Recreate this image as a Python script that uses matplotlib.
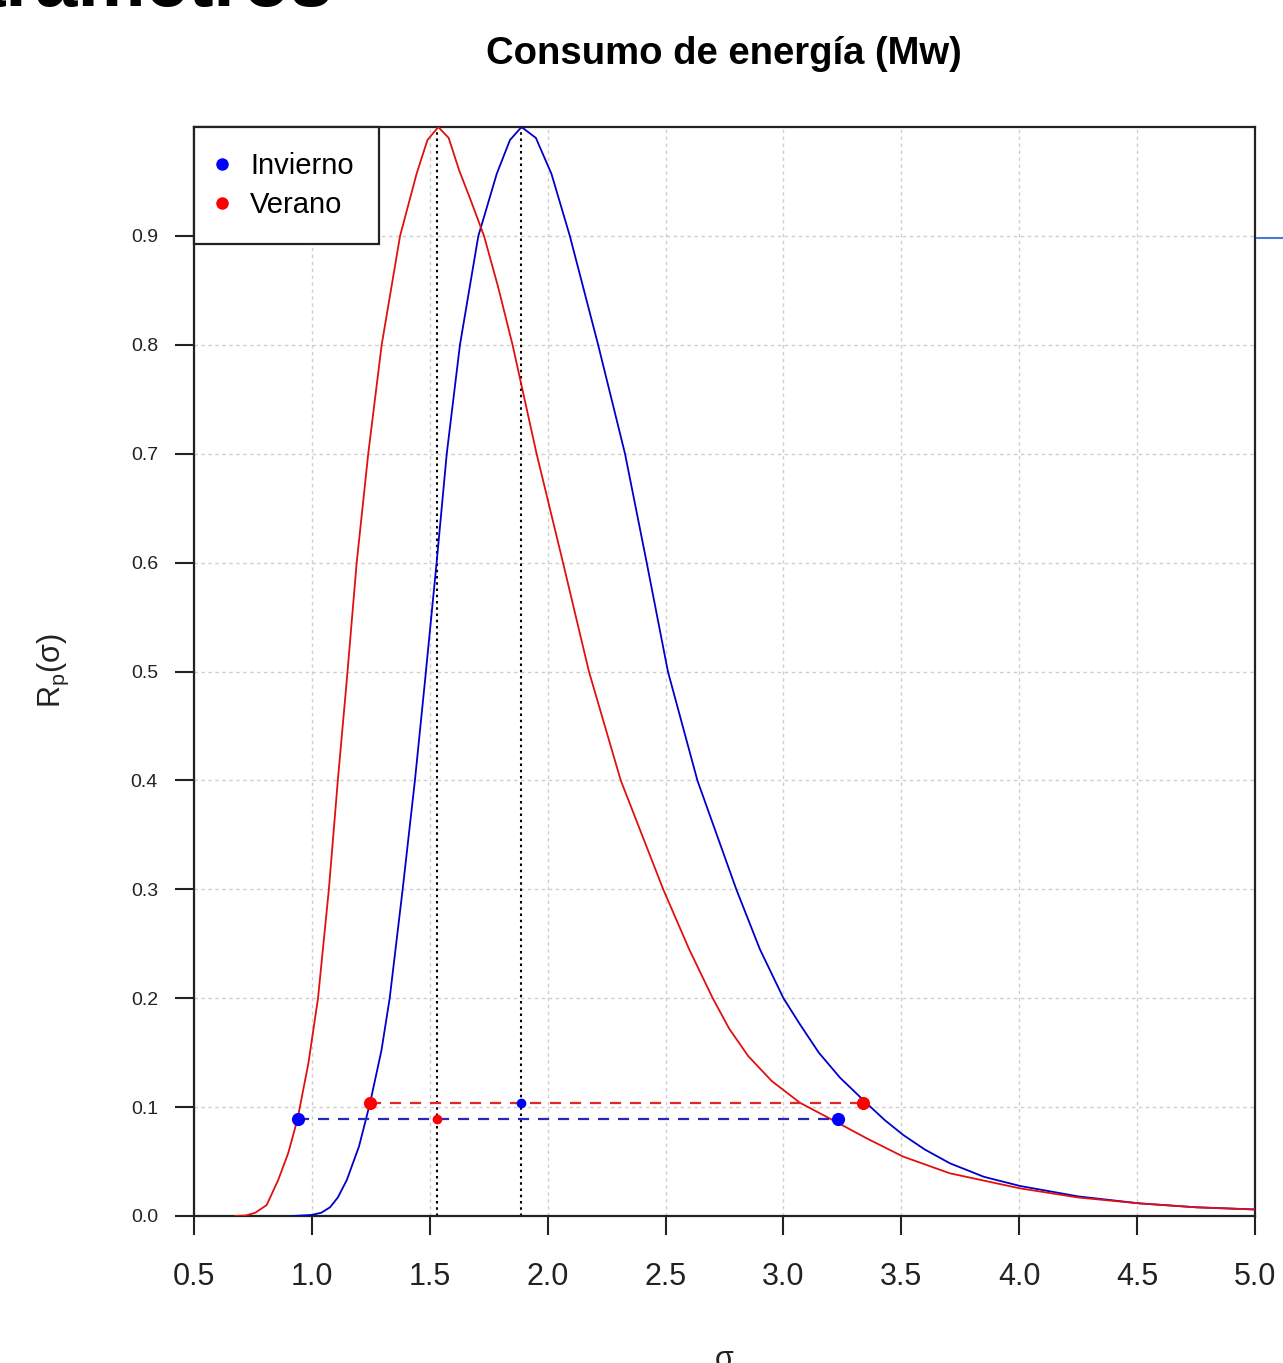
import matplotlib
matplotlib.use("Agg")
import matplotlib.pyplot as plt
from matplotlib.lines import Line2D

plt.rcParams['font.family'] = ['Liberation Sans', 'DejaVu Sans']
plt.rcParams['mathtext.fontset'] = 'custom'
plt.rcParams['mathtext.rm'] = 'Liberation Sans'
plt.rcParams['mathtext.it'] = 'Liberation Sans'

# ---------------- data ----------------
title = "Consumo de energía (Mw)"
seasons = ["Invierno", "Verano"]

x_ticks = [0.5, 1.0, 1.5, 2.0, 2.5, 3.0, 3.5, 4.0, 4.5, 5.0]
x_tick_labels = ["0.5", "1.0", "1.5", "2.0", "2.5", "3.0", "3.5", "4.0", "4.5", "5.0"]
y_ticks = [0.0, 0.1, 0.2, 0.3, 0.4, 0.5, 0.6, 0.7, 0.8, 0.9]
y_tick_labels = ["0.0", "0.1", "0.2", "0.3", "0.4", "0.5", "0.6", "0.7", "0.8", "0.9"]

# Invierno (blue) curve
inv_x = [0.92, 1.0, 1.04, 1.077, 1.11, 1.148, 1.20, 1.247, 1.295, 1.33, 1.385,
         1.437, 1.48, 1.529, 1.572, 1.628, 1.706, 1.724, 1.784, 1.84, 1.889,
         1.95, 2.016, 2.094, 2.214, 2.328, 2.42, 2.51, 2.635, 2.80, 2.90, 3.0,
         3.07, 3.15, 3.24, 3.353, 3.43, 3.508, 3.60, 3.706, 3.85, 4.003, 4.25,
         4.509, 4.75, 5.0]
inv_y = [0.0, 0.001, 0.003, 0.008, 0.017, 0.033, 0.064, 0.104, 0.152, 0.20, 0.30,
         0.40, 0.492, 0.60, 0.70, 0.80, 0.90, 0.913, 0.957, 0.988, 1.0,
         0.99, 0.957, 0.90, 0.80, 0.70, 0.60, 0.50, 0.40, 0.30, 0.245, 0.20,
         0.176, 0.150, 0.127, 0.1035, 0.088, 0.0744, 0.061, 0.0484, 0.036, 0.0276,
         0.018, 0.0116, 0.008, 0.006]

# Verano (red) curve
ver_x = [0.674, 0.72, 0.76, 0.808, 0.857, 0.90, 0.939, 0.985, 1.026, 1.072, 1.11,
         1.148, 1.19, 1.239, 1.296, 1.374, 1.444, 1.49, 1.536, 1.58, 1.625, 1.675,
         1.73, 1.79, 1.851, 1.953, 2.065, 2.175, 2.31, 2.49, 2.60, 2.70, 2.77,
         2.85, 2.95, 3.07, 3.24, 3.353, 3.508, 3.706, 4.003, 4.25, 4.509, 4.75, 5.0]
ver_y = [0.0, 0.0005, 0.003, 0.010, 0.033, 0.058, 0.089, 0.14, 0.20, 0.30, 0.40,
         0.492, 0.60, 0.70, 0.80, 0.90, 0.957, 0.988, 1.0, 0.99, 0.96, 0.932,
         0.90, 0.853, 0.80, 0.70, 0.60, 0.50, 0.40, 0.30, 0.245, 0.20, 0.172,
         0.147, 0.124, 0.104, 0.0845, 0.0713, 0.0545, 0.0392, 0.0254, 0.017,
         0.0116, 0.008, 0.006]

# interval markers
inv_level = 0.089
ver_level = 0.104
inv_lo, inv_hi = 0.939, 3.233
ver_lo, ver_hi = 1.247, 3.338
inv_mode = 1.886
ver_mode = 1.532

# ---------------- figure ----------------
W, H = 1283, 1363
fig = plt.figure(figsize=(W / 100, H / 100), dpi=100)
ax = fig.add_axes([194 / W, 1 - 1216 / H, (1255 - 194) / W, (1216 - 127) / H])

ax.set_xlim(0.5, 5.0)
ax.set_ylim(0.0, 1.0)

# grid
for xv in x_ticks:
    ax.axvline(xv, color='#cfcfcf', lw=1.0, ls=(0, (2.5, 2.5)), zorder=0)
for yv in y_ticks:
    ax.axhline(yv, color='#cfcfcf', lw=1.0, ls=(0, (2.5, 2.5)), zorder=0)

# curves
ax.plot(inv_x, inv_y, color='#0000c8', lw=1.3, zorder=3, solid_joinstyle='round')
ax.plot(ver_x, ver_y, color='#e01010', lw=1.3, zorder=3, solid_joinstyle='round')

# mode lines
ax.vlines([ver_mode, inv_mode], 0, 1, colors='black', linestyles=(0, (1.2, 1.8)), lw=1.5, zorder=2)

# interval dashed lines
ax.plot([ver_lo, ver_hi], [ver_level, ver_level], color='#e02828', lw=1.6,
        ls=(0, (5, 4)), zorder=4)
ax.plot([inv_lo, inv_hi], [inv_level, inv_level], color='#2828c0', lw=1.6,
        ls=(0, (5, 4)), zorder=4)

# dots
ax.plot([inv_lo, inv_hi], [inv_level, inv_level], 'o', color='blue', ms=9.5, mec='none', zorder=5)
ax.plot([ver_lo, ver_hi], [ver_level, ver_level], 'o', color='red', ms=9.5, mec='none', zorder=5)
ax.plot([ver_mode], [inv_level], 'o', color='red', ms=7, mec='none', zorder=5)
ax.plot([inv_mode], [ver_level], 'o', color='blue', ms=7, mec='none', zorder=5)

# ticks
ax.set_xticks(x_ticks)
ax.set_xticklabels(x_tick_labels)
ax.set_yticks(y_ticks)
ax.set_yticklabels(y_tick_labels)
ax.tick_params(axis='x', labelsize=22, length=14, width=1.5, pad=19, colors='#222222')
ax.tick_params(axis='y', labelsize=14, length=14, width=1.5, pad=12, colors='#222222')
for s in ax.spines.values():
    s.set_linewidth(1.6)
    s.set_color('#222222')

# legend
handles = [Line2D([], [], marker='o', ls='None', color='blue', ms=9, mec='none'),
           Line2D([], [], marker='o', ls='None', color='red', ms=9, mec='none')]
leg = ax.legend(handles, seasons, loc='upper left', bbox_to_anchor=(0, 1),
                borderaxespad=0, fontsize=21, frameon=True, fancybox=False,
                edgecolor='#222222', framealpha=1, handlelength=0.2,
                handletextpad=0.88, borderpad=0.85, labelspacing=0.4)
leg.get_frame().set_linewidth(1.6)
leg.set_zorder(10)

# texts
fig.text(724 / W, 1 - 64 / H, title, ha='center', va='baseline',
         fontsize=27.5, fontweight='bold')
fig.text(53 / W, 1 - 671 / H, r'R$_{\mathrm{p}}$(σ)', rotation=90, ha='center',
         va='center', fontsize=22, color='#222222')
fig.text(724 / W, 1 - 1368 / H, 'σ', ha='center', va='baseline', fontsize=22,
         color='#222222')

# cropped header from the page and stray line on the right
fig.text(333 / W, 1 - 6 / H, 'Parámetros', ha='right', va='baseline',
         fontsize=55, fontweight='bold')
fig.add_artist(Line2D([1257 / W, 1.0], [1 - 238 / H, 1 - 238 / H],
                      transform=fig.transFigure, color='#4a7bd4', lw=1.5))

fig.savefig('out.png', dpi=100)
